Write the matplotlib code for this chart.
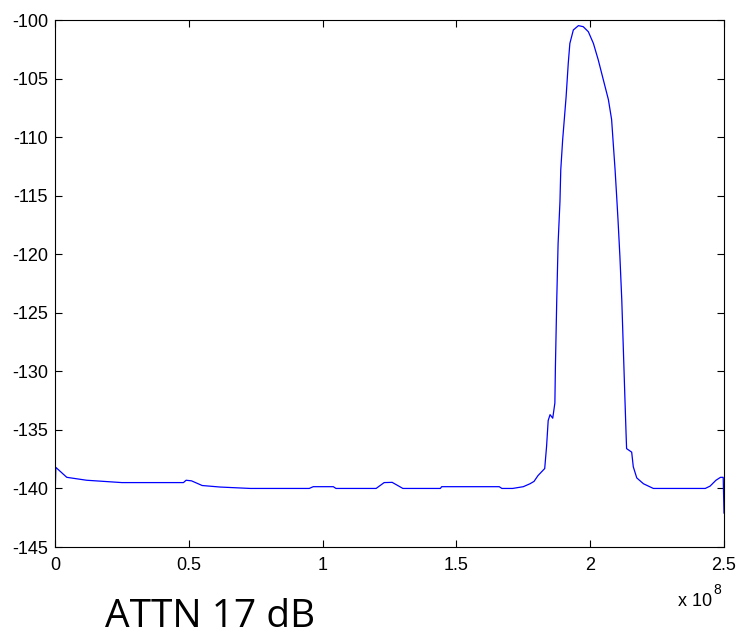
import numpy as np
import matplotlib.pyplot as plt

# spectrum (frequency in units of 1e8 Hz, level in dB)
freq = [0.000, 0.003, 0.044, 0.118, 0.25, 0.48, 0.49, 0.51, 0.55, 0.617,
        0.73, 0.95, 0.965, 1.04, 1.05, 1.20, 1.23, 1.26, 1.30, 1.44,
        1.445, 1.66, 1.67, 1.71, 1.75, 1.775, 1.79, 1.805, 1.83, 1.837,
        1.843, 1.85, 1.86, 1.868, 1.87, 1.875, 1.88, 1.887, 1.89, 1.897,
        1.91, 1.918, 1.924, 1.937, 1.956, 1.974, 1.993, 2.012, 2.03, 2.049,
        2.068, 2.08, 2.086, 2.093, 2.099, 2.104, 2.111, 2.118, 2.124, 2.13,
        2.134, 2.136, 2.155, 2.161, 2.174, 2.199, 2.236, 2.43, 2.448, 2.47,
        2.487, 2.497, 2.5]
level = [-141.1, -138.2, -139.05, -139.3, -139.5, -139.5, -139.3, -139.35, -139.75, -139.88,
         -140.0, -140.0, -139.85, -139.85, -140.0, -140.0, -139.5, -139.48, -140.0, -140.0,
         -139.85, -139.85, -140.0, -140.0, -139.85, -139.6, -139.4, -138.9, -138.3, -136.4,
         -134.2, -133.7, -134.0, -132.7, -129.6, -123.9, -119.1, -115.5, -112.8, -110.25,
         -106.55, -103.7, -102.0, -100.85, -100.48, -100.57, -101.0, -102.0, -103.4, -105.1,
         -106.8, -108.5, -110.5, -112.8, -115.1, -117.1, -120.2, -123.9, -128.2, -132.5,
         -135.3, -136.6, -136.9, -138.15, -139.1, -139.6, -140.0, -140.0, -139.8, -139.3,
         -139.05, -139.05, -142.1]

xticks = [0, 0.5, 1, 1.5, 2, 2.5]
xtick_labels = ["0", "0.5", "1", "1.5", "2", "2.5"]
yticks = [-145, -140, -135, -130, -125, -120, -115, -110, -105, -100]

plt.rcParams['font.family'] = ['Liberation Sans', 'DejaVu Sans']
plt.rcParams['axes.unicode_minus'] = False

fig = plt.figure(figsize=(7.42, 6.37), dpi=100)
ax = fig.add_axes([55/742, 90/637, 669/742, 527/637])

f_hz = np.array(freq) * 1e8
ax.plot(f_hz, level, color='#0000ff', lw=0.9)

ax.set_xlim(0, 2.5e8)
ax.set_ylim(-145, -100)
ax.set_xticks(np.array(xticks) * 1e8)
ax.set_xticklabels(xtick_labels)
ax.set_yticks(yticks)
ax.tick_params(direction='in', top=True, right=True, length=5, width=0.8,
               labelsize=13, colors='black')
ax.tick_params(axis='x', pad=7)
ax.tick_params(axis='y', pad=5)
for s in ax.spines.values():
    s.set_linewidth(0.8)

# matlab style exponent under the x axis
fig.text(678/742, 1 - 606/637, "x 10", fontsize=13, ha='left', va='baseline')
fig.text(713/742, 1 - 594/637, "8", fontsize=10, ha='left', va='baseline')

fig.text(105/742, 1 - 627/637, "ATTN 17 dB", fontsize=28, family='Open Sans',
         ha='left', va='baseline')

fig.savefig("out.png", dpi=100)
